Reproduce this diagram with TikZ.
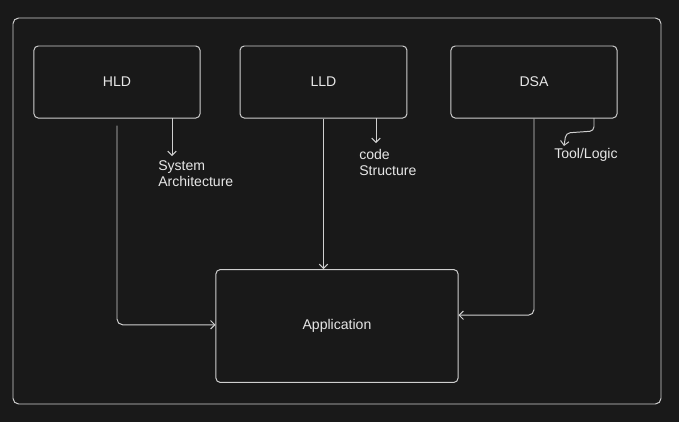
\documentclass[tikz,border=0pt]{standalone}
\usepackage{fontspec}
\setmainfont{Liberation Sans}
\usetikzlibrary{arrows.meta}

\definecolor{bgdark}{HTML}{191919}
\definecolor{strokegray}{HTML}{CFCFCF}
\definecolor{textwhite}{HTML}{E6E6E6}

\tikzset{
  box/.style={draw=strokegray, line width=0.7pt, rounded corners=3pt,
    text=textwhite, font=\fontsize{10}{12}\selectfont},
  lbl/.style={text=textwhite, align=left, inner sep=0pt,
    font=\fontsize{10}{11.5}\selectfont},
  arr/.style={draw=strokegray, line width=0.7pt,
    -{Straight Barb[length=3pt,width=6pt]}}
}

\begin{document}
\begin{tikzpicture}[x=0.025cm, y=-0.025cm]

% Canvas
\fill[bgdark] (0,0) rectangle (679,422);
\useasboundingbox (0,0) rectangle (679,422);

% Outer frame
\draw[strokegray, line width=0.7pt, rounded corners=4pt] (13,18) rectangle (661,404);

% Boxes
\node[box, minimum width=4.15cm, minimum height=1.8cm] (hld) at (117,82) {HLD};
\node[box, minimum width=4.17cm, minimum height=1.8cm] (lld) at (323.5,82) {LLD};
\node[box, minimum width=4.15cm, minimum height=1.8cm] (dsa) at (534,82) {DSA};
\node[box, minimum width=6.05cm, minimum height=2.82cm] (app) at (337,326) {Application};

% Side notes
\node[lbl, anchor=north west] (sysarch) at (158,160) {System\\Architecture};
\node[lbl, anchor=north west] (codestr) at (359,149) {code\\Structure};
\node[lbl, anchor=west] (toollogic) at (554,155) {Tool/Logic};

% Arrow ends
\coordinate (hldout) at (172,118);
\coordinate (sysin) at (172,156);
\coordinate (lldout) at (376,118);
\coordinate (codein) at (376,143);
\coordinate (dsaout) at (594,118);
\coordinate (toolin) at (564,146);

% Notes arrows
\draw[arr] (hldout) -- (sysin);
\draw[arr] (lldout) -- (codein);
\draw[arr, rounded corners=3pt] (dsaout) -- (594,131) -- (566,133) -- (toolin);

% Into application
\draw[arr, rounded corners=4pt] ([yshift=-0.175cm]hld.south) |- ([yshift=0.03cm]app.west);
\draw[arr] (lld.south) -- (lld.south |- app.north);
\draw[arr, rounded corners=4pt] (dsa.south) |- ([yshift=0.27cm]app.east);

\end{tikzpicture}
\end{document}
